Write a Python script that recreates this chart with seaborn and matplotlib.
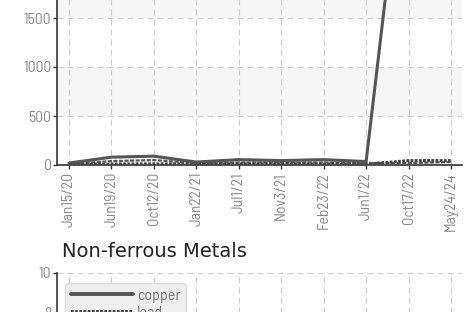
import matplotlib
matplotlib.use("Agg")
import matplotlib.pyplot as plt
import numpy as np
import pandas as pd
import seaborn as sns

dates = ["Jan15/20", "Jun19/20", "Oct12/20", "Jan22/21", "Jul1/21",
         "Nov3/21", "Feb23/22", "Jun1/22", "Oct17/22", "May24/24"]

# top chart (only its lower part is visible)
top_copper = [20, 80, 90, 30, 55, 45, 55, 35, 3700, 4200]
top_lead = [5, 10, 12, 10, 12, 12, 10, 8, 45, 45]
top_zinc = [10, 40, 50, 20, 25, 25, 25, 20, 20, 30]
top_yticks = [0, 500, 1000, 1500]

# Non-ferrous Metals chart (only the top edge is visible)
nf_copper = [3, 5, 6, 4, 5, 5, 6, 5, 7, 6]
nf_lead = [1, 2, 2, 1, 2, 2, 2, 1, 3, 3]
nf_yticks = [8, 10]

sns.set_style("white")
plt.rcParams["lines.scale_dashes"] = False
plt.rcParams["font.family"] = ["Barlow Semi Condensed", "DejaVu Sans"]

W, H = 465, 312
fig = plt.figure(figsize=(W / 100, H / 100), dpi=100)

LINE = "#555555"
GRID = "#cccccc"
BAND = "#f6f6f6"
TICKC = "#8a8a8a"


def px_axes(left, top, right, bottom):
    return fig.add_axes([left / W, 1 - bottom / H, (right - left) / W, (bottom - top) / H])


def style(ax, ymax, step, yticks, xlabels=True):
    ax.set_xlim(-0.283, 9.26)
    ax.set_ylim(0, ymax)
    ax.set_xticks(range(len(dates)))
    ax.set_xticklabels(dates if xlabels else [], rotation=90)
    ax.set_yticks(yticks)
    for k, y0 in enumerate(np.arange(0, ymax, step)):
        if k % 2 == 1:
            ax.axhspan(y0, y0 + step, color=BAND, zorder=0, lw=0)
    for y0 in np.arange(step, ymax + step / 2, step):
        ax.axhline(y0, color=GRID, lw=0.8, linestyle=(0, (4.3, 2.9)), zorder=1)
    ax.grid(True, axis="x", color=GRID, lw=0.8, linestyle=(0, (4.3, 2.9)), zorder=1)
    ax.set_axisbelow(True)
    for s in ["top", "right"]:
        ax.spines[s].set_visible(False)
    for s in ["left", "bottom"]:
        ax.spines[s].set_color("#333333")
        ax.spines[s].set_linewidth(1.2)
    ax.tick_params(axis="both", colors="#333333", labelcolor=TICKC,
                   labelsize=11.2, length=3, width=1, direction="out")
    ax.tick_params(axis="y", left=True, pad=1)
    ax.tick_params(axis="x", bottom=True, pad=2)
    ax.set_xlabel("")
    ax.set_ylabel("")


idx = np.arange(len(dates))

ax1 = px_axes(57, 165 - 9 * 49, 462, 165)
df1 = pd.DataFrame({"x": idx, "copper": top_copper, "lead": top_lead, "zinc": top_zinc})
sns.lineplot(data=df1, x="x", y="zinc", ax=ax1, color=LINE, lw=1.6,
             linestyle=(0, (3, 1)), legend=False, zorder=3)
sns.lineplot(data=df1, x="x", y="lead", ax=ax1, color="#444444", lw=2.2,
             linestyle=(0, (2.0, 1.0)), legend=False, zorder=3)
sns.lineplot(data=df1, x="x", y="copper", ax=ax1, color=LINE, lw=2.2,
             legend=False, zorder=4)
style(ax1, 4500, 500, top_yticks)

ax2 = px_axes(57, 273, 462, 473)
df2 = pd.DataFrame({"x": idx, "copper": nf_copper, "lead": nf_lead})
sns.lineplot(data=df2, x="x", y="copper", ax=ax2, color=LINE, lw=2.8,
             label="copper", zorder=4)
sns.lineplot(data=df2, x="x", y="lead", ax=ax2, color="#444444", lw=2.8,
             linestyle=(0, (2.0, 1.0)), label="lead", zorder=3)
style(ax2, 10, 2, nf_yticks, xlabels=False)
leg = ax2.legend(loc="upper left", bbox_to_anchor=(65 / W, 1 - 283 / H),
                 bbox_transform=fig.transFigure, frameon=True, fancybox=True,
                 handlelength=3.9, handletextpad=0.25, borderpad=0.35,
                 labelspacing=0.2, fontsize=11.5, borderaxespad=0)
leg.get_frame().set_facecolor("#eeeeee")
leg.get_frame().set_edgecolor("#dddddd")
leg.get_frame().set_alpha(1)
for t in leg.get_texts():
    t.set_color("#777777")

fig.text(62 / W, 1 - 257 / H, "Non-ferrous Metals", fontsize=14,
         color="#222222", family="DejaVu Sans", ha="left", va="baseline")

fig.savefig("out.png", dpi=100)
